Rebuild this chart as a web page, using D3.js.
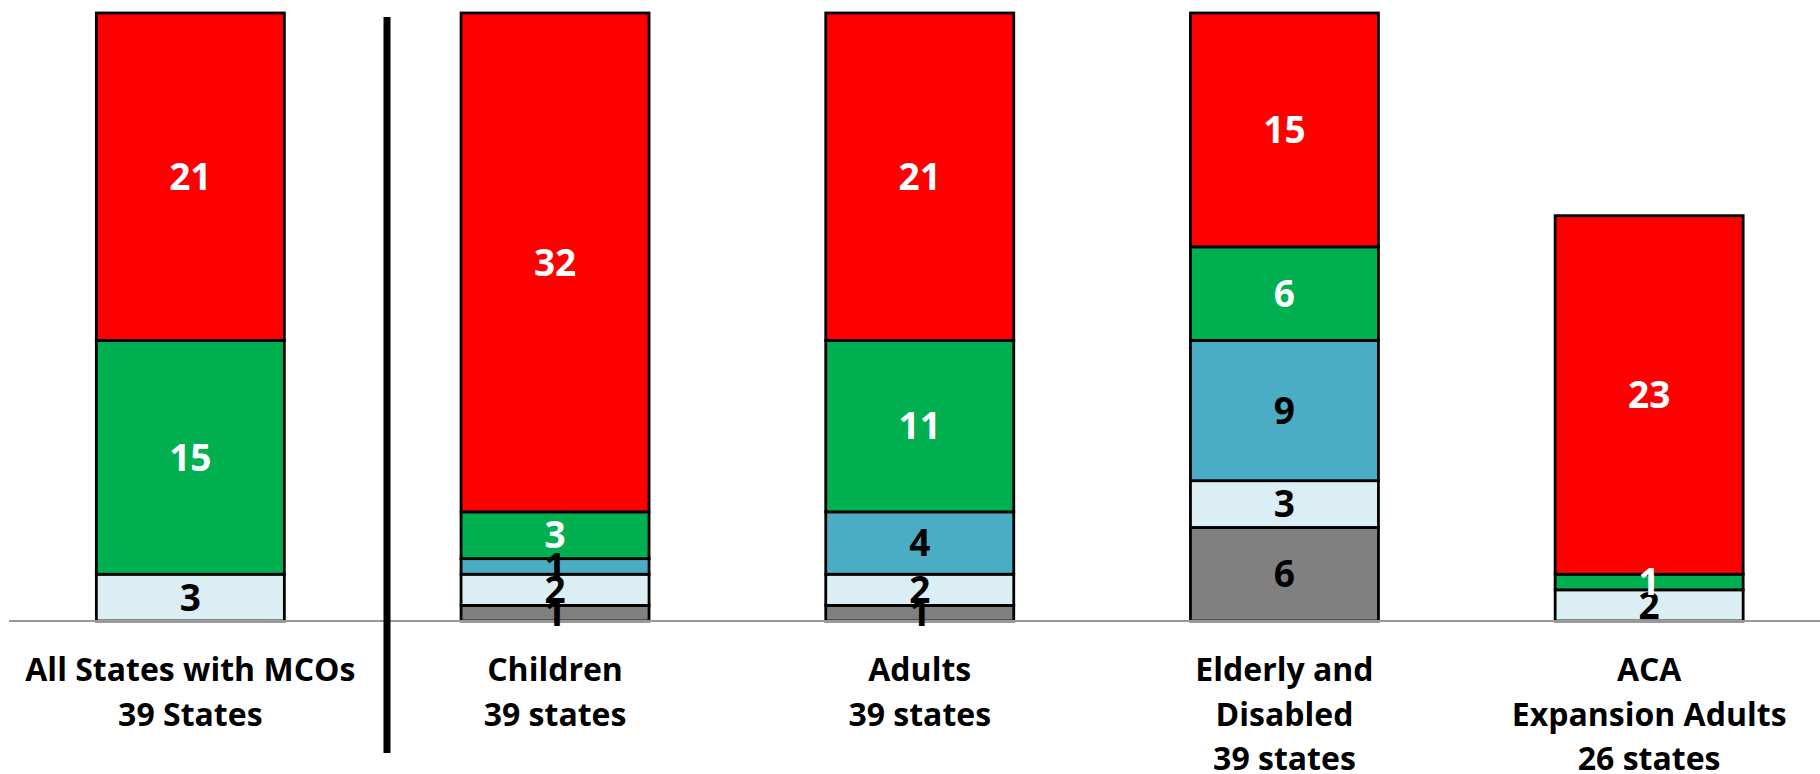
<!DOCTYPE html>
<html>
<head>
<meta charset="utf-8">
<script src="https://cdn.jsdelivr.net/npm/d3@7"></script>
<style>
html, body { margin: 0; padding: 0; background: #fff; }
svg { display: block; }
</style>
</head>
<body>
<svg id="chart" width="1820" height="774"></svg>
<script>
// ---- Data ----
const categories = ["All States with MCOs", "Children", "Adults", "Elderly and Disabled", "ACA Expansion Adults"];
const categoryLabels = [
  ["All States with MCOs", "39 States"],
  ["Children", "39 states"],
  ["Adults", "39 states"],
  ["Elderly and", "Disabled", "39 states"],
  ["ACA", "Expansion Adults", "26 states"]
];
// stacked bottom -> top
const seriesKeys = ["gray", "lightblue", "blue", "green", "red"];
const grayValues      = [0, 1, 1, 6, 0];
const lightblueValues = [3, 2, 2, 3, 2];
const blueValues      = [0, 1, 4, 9, 0];
const greenValues     = [15, 3, 11, 6, 1];
const redValues       = [21, 32, 21, 15, 23];

const seriesColors = { gray: "#808080", lightblue: "#DAEEF3", blue: "#4BACC6", green: "#00B050", red: "#FF0000" };
const labelColors  = { gray: "#000", lightblue: "#000", blue: "#000", green: "#fff", red: "#fff" };

const rows = categories.map((c, i) => ({
  category: c,
  gray: grayValues[i],
  lightblue: lightblueValues[i],
  blue: blueValues[i],
  green: greenValues[i],
  red: redValues[i]
}));

// ---- Layout ----
const W = 1820, H = 774;
const baseY = 621, topY = 13;
const svg = d3.select("#chart");
const FONT = "'Open Sans', 'DejaVu Sans', sans-serif";

const x = d3.scaleBand()
  .domain(categories)
  .range([8, 1831.5])
  .paddingInner(0.4845)
  .paddingOuter(0.24225);

const y = d3.scaleLinear().domain([0, 39]).range([baseY, topY]);

const stacked = d3.stack().keys(seriesKeys)(rows);

const layers = svg.append("g").selectAll("g")
  .data(stacked)
  .join("g")
  .attr("fill", d => seriesColors[d.key]);

layers.selectAll("rect")
  .data(d => d.filter(s => s[1] - s[0] > 0).map(s => Object.assign(s, { key: d.key })))
  .join("rect")
  .attr("x", d => x(d.data.category))
  .attr("width", x.bandwidth())
  .attr("y", d => y(d[1]))
  .attr("height", d => y(d[0]) - y(d[1]))
  .attr("stroke", "#000")
  .attr("stroke-width", 2.8);

// axis baseline
svg.append("line")
  .attr("x1", 9).attr("x2", W)
  .attr("y1", baseY).attr("y2", baseY)
  .attr("stroke", "#999").attr("stroke-width", 2);

// value labels
const valueFont = 37;
const labelG = svg.append("g");
stacked.forEach(layer => {
  layer.forEach(s => {
    const v = s[1] - s[0];
    if (v <= 0) return;
    const cy = (y(s[0]) + y(s[1])) / 2;
    labelG.append("text")
      .attr("x", x(s.data.category) + x.bandwidth() / 2)
      .attr("y", cy + valueFont * 0.357)
      .attr("text-anchor", "middle")
      .attr("font-family", FONT)
      .attr("font-weight", "bold")
      .attr("font-size", valueFont)
      .attr("fill", labelColors[layer.key])
      .text(v);
  });
});

// divider
svg.append("line")
  .attr("x1", 387).attr("x2", 387)
  .attr("y1", 17).attr("y2", 753)
  .attr("stroke", "#000").attr("stroke-width", 7);

// category labels
const catG = svg.append("g");
categories.forEach((c, i) => {
  const t = catG.append("text")
    .attr("x", x(c) + x.bandwidth() / 2)
    .attr("y", 681)
    .attr("text-anchor", "middle")
    .attr("font-family", FONT)
    .attr("font-weight", "bold")
    .attr("font-size", 32)
    .attr("fill", "#000");
  categoryLabels[i].forEach((line, j) => {
    t.append("tspan")
      .attr("x", x(c) + x.bandwidth() / 2)
      .attr("y", 681 + j * 44.5)
      .text(line);
  });
});
</script>
</body>
</html>
